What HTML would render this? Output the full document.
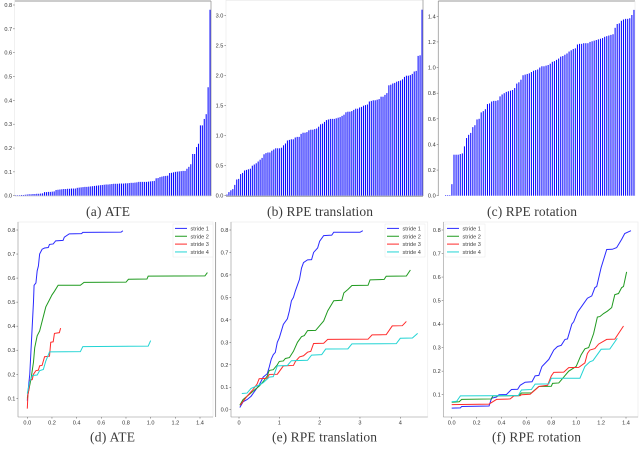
<!DOCTYPE html>
<html>
<head>
<meta charset="utf-8">
<title>Error charts</title>
<style>
html,body{margin:0;padding:0;background:#fff;width:640px;height:460px;overflow:hidden}
svg{display:block;filter:blur(0.3px)}
.tick{font:5.6px "Liberation Sans",sans-serif;fill:#333}
.leg{font:5.6px "Liberation Sans",sans-serif;fill:#444}
.cap{font:13.5px "Liberation Serif",serif;fill:#3a3a3a}
</style>
</head>
<body>
<svg id="fig" width="640" height="460" viewBox="0 0 640 460" xmlns="http://www.w3.org/2000/svg"></svg>
<script>
// ---- bar chart data
const ateBars = [.002,.002,.002,.003,.003,.004,.005,.006,.006,.007,.007,.008,.008,.009,.010,.015,.015,.016,.016,.017,.018,.024,.025,.026,.027,.028,.028,.029,.029,.030,.030,.030,.033,.034,.035,.036,.037,.037,.038,.039,.040,.041,.042,.043,.044,.045,.046,.047,.047,.048,.049,.050,.050,.050,.051,.051,.051,.052,.052,.053,.054,.054,.055,.056,.058,.058,.058,.058,.058,.059,.060,.061,.062,.073,.074,.078,.080,.082,.083,.084,.095,.096,.098,.100,.101,.102,.103,.104,.104,.113,.121,.132,.175,.175,.204,.218,.295,.295,.322,.342,.455,.78];
const rpeTransBars = [.02,.06,.09,.11,.18,.27,.28,.36,.38,.42,.43,.44,.45,.50,.52,.54,.57,.60,.63,.69,.71,.72,.72,.75,.77,.79,.79,.79,.80,.84,.87,.92,.93,.94,.94,.97,.98,.98,1.03,1.05,1.05,1.06,1.09,1.10,1.10,1.11,1.12,1.15,1.19,1.20,1.23,1.26,1.27,1.28,1.28,1.28,1.29,1.30,1.31,1.33,1.35,1.39,1.40,1.40,1.41,1.43,1.45,1.45,1.47,1.48,1.50,1.51,1.52,1.57,1.58,1.59,1.59,1.60,1.61,1.65,1.65,1.68,1.71,1.84,1.85,1.87,1.88,1.90,1.91,1.92,1.94,1.98,2.00,2.00,2.01,2.03,2.07,2.08,2.33,2.34,3.10];
const rpeRotBars = [0,0,0,.005,.005,.005,.09,.32,.32,.32,.325,.33,.385,.45,.475,.49,.535,.55,.595,.60,.65,.66,.675,.715,.72,.735,.74,.74,.745,.775,.79,.80,.81,.815,.82,.825,.84,.875,.885,.905,.94,.945,.95,.955,.965,.975,.98,.985,1.0,1.01,1.01,1.015,1.02,1.03,1.045,1.05,1.06,1.07,1.085,1.09,1.10,1.11,1.125,1.135,1.145,1.15,1.18,1.185,1.185,1.19,1.19,1.19,1.20,1.205,1.21,1.215,1.22,1.225,1.23,1.24,1.245,1.25,1.255,1.26,1.31,1.34,1.345,1.365,1.375,1.38,1.38,1.385,1.41,1.45];

// ---- tick labels
const ateBarTicks = [0,.1,.2,.3,.4,.5,.6,.7,.8];
const rpeTransBarTicks = [0,.5,1,1.5,2,2.5,3];
const rpeRotBarTicks = [0,.2,.4,.6,.8,1,1.2,1.4];
const lineAteXTicks = [0,.2,.4,.6,.8,1,1.2,1.4];
const lineAteYTicks = [.1,.2,.3,.4,.5,.6,.7,.8];
const lineTransXTicks = [0,1,2,3,4];
const lineTransYTicks = [0,.1,.2,.3,.4,.5,.6,.7,.8];
const lineRotXTicks = [0,.2,.4,.6,.8,1,1.2,1.4];
const lineRotYTicks = [.1,.2,.3,.4,.5,.6,.7,.8];
const strideNames = ["stride 1","stride 2","stride 3","stride 4"];
const strideColors = ["#2a2aff","#1f9a1f","#ff2a2a","#22d4d4"];

// ---- (d) ATE series: [x, y] pairs
const ateS1 = [[0,.09],[.005,.12],[.01,.15],[.02,.2],[.03,.3],[.04,.4],[.05,.5],[.055,.57],[.07,.58],[.08,.63],[.09,.65],[.1,.7],[.12,.72],[.14,.725],[.17,.727],[.18,.74],[.21,.742],[.23,.755],[.29,.757],[.3,.77],[.34,.784],[.44,.785],[.45,.79],[.76,.791],[.775,.797]];
const ateS2 = [[0,.1],[.01,.13],[.03,.18],[.05,.25],[.06,.31],[.08,.36],[.1,.38],[.12,.42],[.15,.48],[.18,.51],[.2,.53],[.22,.545],[.25,.57],[.43,.57],[.46,.582],[.8,.583],[.82,.595],[.97,.596],[.98,.608],[1.44,.609],[1.46,.623]];
const ateS3 = [[0,.057],[.005,.115],[.015,.14],[.02,.175],[.04,.178],[.05,.2],[.07,.215],[.09,.217],[.1,.235],[.12,.237],[.13,.255],[.14,.273],[.18,.275],[.19,.333],[.21,.335],[.22,.37],[.26,.373],[.27,.392]];
const ateS4 = [[0,.12],[.02,.17],[.04,.195],[.08,.197],[.1,.215],[.13,.22],[.15,.255],[.17,.28],[.18,.293],[.43,.294],[.45,.315],[.98,.317],[1.0,.34]];

// ---- (e) RPE translation series
const transS1 = [[.02,.01],[.1,.035],[.2,.045],[.3,.06],[.4,.085],[.5,.11],[.6,.145],[.7,.16],[.75,.19],[.8,.225],[.85,.245],[.9,.255],[.95,.3],[1,.32],[1.1,.38],[1.2,.405],[1.25,.44],[1.3,.485],[1.35,.5],[1.4,.53],[1.5,.58],[1.55,.63],[1.6,.655],[1.7,.667],[1.8,.668],[1.85,.7],[1.95,.72],[2.0,.75],[2.1,.775],[2.3,.777],[2.35,.79],[3.0,.79],[3.07,.797]];
const transS2 = [[.02,.02],[.1,.045],[.3,.075],[.5,.105],[.6,.125],[.7,.15],[.75,.175],[.85,.178],[.95,.2],[1,.215],[1.1,.217],[1.15,.228],[1.25,.232],[1.35,.26],[1.45,.3],[1.55,.325],[1.62,.33],[1.7,.352],[1.9,.353],[2.1,.395],[2.2,.44],[2.35,.485],[2.55,.487],[2.6,.52],[2.7,.535],[2.8,.553],[3.2,.554],[3.25,.578],[3.6,.58],[3.65,.594],[4.15,.595],[4.25,.622]];
const transS3 = [[.03,.02],[.2,.06],[.35,.09],[.45,.115],[.5,.138],[.7,.14],[.75,.157],[.95,.158],[1.1,.195],[1.35,.197],[1.4,.215],[1.5,.235],[1.6,.24],[1.7,.256],[1.78,.26],[1.85,.295],[2.1,.296],[2.2,.313],[3.2,.314],[3.3,.333],[3.65,.334],[3.8,.373],[4.05,.374],[4.15,.393]];
const transS4 = [[.07,.072],[.2,.074],[.3,.095],[.5,.11],[.6,.12],[.75,.145],[.85,.147],[.95,.195],[1.2,.197],[1.3,.218],[1.7,.22],[1.8,.243],[2.05,.245],[2.15,.27],[2.7,.271],[2.8,.293],[3.9,.294],[4.0,.318],[4.3,.319],[4.43,.34]];

// ---- (f) RPE rotation series
const rotS1 = [[0,.043],[.07,.044],[.08,.05],[.3,.052],[.32,.085],[.36,.09],[.38,.1],[.44,.101],[.48,.122],[.53,.123],[.55,.14],[.59,.153],[.645,.155],[.67,.18],[.7,.182],[.725,.22],[.78,.25],[.82,.29],[.85,.305],[.88,.31],[.91,.335],[.93,.337],[.965,.4],[.98,.41],[1.01,.45],[1.05,.48],[1.09,.51],[1.125,.52],[1.15,.555],[1.165,.56],[1.2,.64],[1.245,.717],[1.29,.718],[1.325,.725],[1.365,.76],[1.39,.785],[1.44,.797]];
const rotS2 = [[0,.068],[.06,.07],[.08,.08],[.32,.082],[.33,.095],[.54,.096],[.56,.107],[.64,.108],[.7,.135],[.8,.136],[.81,.148],[.86,.15],[.9,.175],[.94,.2],[1.0,.22],[1.04,.27],[1.07,.295],[1.1,.3],[1.14,.36],[1.17,.43],[1.19,.432],[1.22,.445],[1.25,.455],[1.285,.47],[1.31,.525],[1.34,.53],[1.365,.555],[1.38,.56],[1.405,.622]];
const rotS3 = [[0,.058],[.3,.06],[.36,.08],[.47,.082],[.5,.095],[.55,.096],[.56,.1],[.63,.102],[.68,.125],[.7,.135],[.77,.14],[.8,.18],[.82,.195],[.9,.196],[.94,.215],[1.02,.216],[1.07,.235],[1.09,.275],[1.11,.29],[1.15,.296],[1.18,.315],[1.245,.335],[1.31,.336],[1.38,.392]];
const rotS4 = [[0,.07],[.04,.072],[.07,.095],[.535,.096],[.56,.12],[.64,.122],[.67,.145],[.78,.146],[.8,.17],[1.03,.17],[1.07,.22],[1.11,.24],[1.135,.245],[1.2,.293],[1.27,.294],[1.33,.34]];

const NS = "http://www.w3.org/2000/svg";
const fig = document.getElementById("fig");

function mk(tag, attrs, parent, text) {
  const el = document.createElementNS(NS, tag);
  for (const k in attrs) el.setAttribute(k, attrs[k]);
  if (text !== undefined) el.textContent = text;
  (parent || fig).appendChild(el);
  return el;
}
function linScale(v0, p0, v1, p1) {
  return v => p0 + (v - v0) * (p1 - p0) / (v1 - v0);
}
function fmt(v) {
  return Number.isInteger(v) ? v.toFixed(1) : String(v);
}

function drawYTicks(g, ticks, y, axisX) {
  ticks.forEach(t => {
    const tk = mk("line", {x1: axisX - 1.6, x2: axisX, y1: y(t), y2: y(t), stroke: "#555", "stroke-width": .5}, g);
    
    
    const lb = mk("text", {class: "tick", x: axisX - 2.6, y: y(t) + 2, "text-anchor": "end"}, g, fmt(t));
    
    
  });
}
function drawXTicks(g, ticks, x, axisY, intLabels) {
  ticks.forEach(t => {
    const tk = mk("line", {x1: x(t), x2: x(t), y1: axisY, y2: axisY + 1.6, stroke: "#555", "stroke-width": .5}, g);
    
    
    const lb = mk("text", {class: "tick", x: x(t), y: axisY + 7.6, "text-anchor": "middle"}, g, intLabels ? String(t) : fmt(t));
    
    
  });
}

function barChart(name, values, ticks, left, right, y, frame, cap, capX0, capX1) {
  const g = mk("g", {});
  
  
  const step = (right - left) / values.length;
  values.forEach((v, i) => {
    const r = mk("rect", {x: left + i * step + (step - 1.05) / 2, width: 1.05, y: y(v), height: Math.max(0, y(0) - y(v)), fill: "#0a0aff"}, g);
    
    
  });
  frame.forEach(f => {
    const ln = mk("line", {x1: f[0], y1: f[1], x2: f[2], y2: f[3], stroke: f[4], "stroke-width": f[5]}, g);
    
    
  });
  drawYTicks(g, ticks, y, left);
  const c = mk("text", {class: "cap", x: capX0, y: 216, textLength: capX1 - capX0, lengthAdjust: "spacing"}, g, cap);
  
  
}

function lineChart(name, series, xTicks, yTicks, intX, b, x, y, leg, cap, capX0, capX1) {
  const g = mk("g", {});
  
  
  const frame = mk("rect", {x: b.l, y: b.t, width: b.r - b.l, height: b.b - b.t, fill: "none", stroke: "#eeeeee", "stroke-width": .8}, g);
  
  
  const ya = mk("line", {x1: b.l, x2: b.l, y1: b.t, y2: b.b, stroke: "#999", "stroke-width": .6}, g);
  
  
  const xa = mk("line", {x1: b.l, x2: b.r, y1: b.b, y2: b.b, stroke: "#999", "stroke-width": .6}, g);
  
  
  drawYTicks(g, yTicks, y, b.l);
  drawXTicks(g, xTicks, x, b.b, intX);
  series.forEach((s, i) => {
    const p = mk("polyline", {points: s.map(d => x(d[0]).toFixed(2) + "," + y(d[1]).toFixed(2)).join(" "), fill: "none", stroke: strideColors[i], "stroke-width": 1}, g);
    
    
  });
  const lg = mk("g", {}, g);
  
  
  const box = mk("rect", {x: leg.x, y: leg.y, width: 40, height: 33, fill: "#fff", stroke: "#e8e8e8", "stroke-width": .5}, lg);
  
  
  strideNames.forEach((n, i) => {
    const ey = leg.y + 4.4 + i * 7.85;
    const ll = mk("line", {x1: leg.x + 2, x2: leg.x + 14, y1: ey, y2: ey, stroke: strideColors[i], "stroke-width": 1}, lg);
    
    
    const lt = mk("text", {class: "leg", x: leg.x + 17.5, y: ey + 2}, lg, n);
    
    
  });
  const c = mk("text", {class: "cap", x: capX0, y: 441.5, textLength: capX1 - capX0, lengthAdjust: "spacing"}, g, cap);
  
  
}

barChart("ate-bar-chart", ateBars, ateBarTicks, 14.7, 211, linScale(0, 195.7, .8, 5),
  [[14.7,1,211,1,"#999",1],[211,1,211,196,"#999",.8],[14.7,1,14.7,196,"#e6e6e6",.6],[14.7,196,211,196,"#bbb",.5]],
  "(a) ATE", 86, 130);
barChart("rpe-translation-bar-chart", rpeTransBars, rpeTransBarTicks, 226, 423, linScale(0, 195.7, 3, 15.7),
  [[226,.5,423,.5,"#e4e4e4",.6],[423,0,423,196,"#999",.8],[226,0,226,196,"#e6e6e6",.6],[226,196.2,423,196.2,"#888",.9]],
  "(b) RPE translation", 267, 373);
barChart("rpe-rotation-bar-chart", rpeRotBars, rpeRotBarTicks, 438.3, 635, linScale(0, 195.7, 1.4, 16.3),
  [[438.3,1,635,1,"#999",1],[438.3,1,438.3,196,"#999",.8],[635,1,635,196,"#e6e6e6",.6]],
  "(c) RPE rotation", 487, 577);

lineChart("ate-line-chart", [ateS1, ateS2, ateS3, ateS4], lineAteXTicks, lineAteYTicks, false,
  {l: 18, r: 213, t: 222, b: 417}, linScale(0, 27.3, 1.4, 200), linScale(.1, 398.3, .8, 230),
  {x: 173, y: 224}, "(d) ATE", 90, 135);
lineChart("rpe-translation-line-chart", [transS1, transS2, transS3, transS4], lineTransXTicks, lineTransYTicks, true,
  {l: 231, r: 427.7, t: 222, b: 417}, linScale(0, 239, 4, 400.3), linScale(0, 409.7, .8, 230),
  {x: 385, y: 224}, "(e) RPE translation", 272, 377);
lineChart("rpe-rotation-line-chart", [rotS1, rotS2, rotS3, rotS4], lineRotXTicks, lineRotYTicks, false,
  {l: 443.3, r: 638, t: 222, b: 417}, linScale(0, 451.7, 1.4, 626), linScale(.1, 394.7, .8, 230),
  {x: 445, y: 224}, "(f) RPE rotation", 492, 581);

const divider = mk("line", {x1: 215.6, x2: 215.6, y1: 222, y2: 417, stroke: "#999", "stroke-width": .9});


</script>
</body>
</html>
